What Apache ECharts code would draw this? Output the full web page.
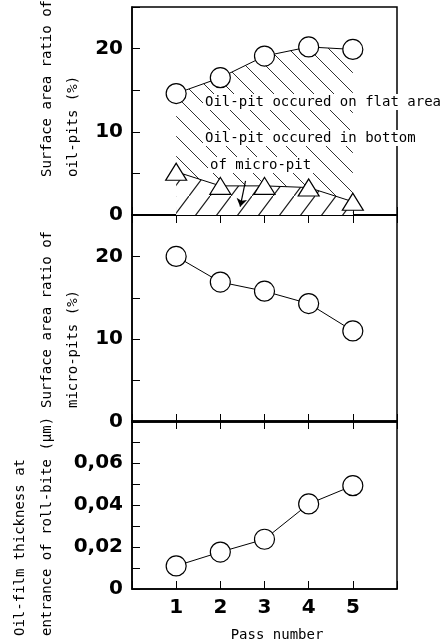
<!DOCTYPE html>
<html>
<head>
<meta charset="utf-8">
<script src="https://cdn.jsdelivr.net/npm/echarts@6/dist/echarts.min.js"></script>
<style>
    html, body { margin: 0; padding: 0; background: #fff; }
    #main { width: 442px; height: 644px; }
</style>
</head>
<body>
<div id="main"></div>
<script>
    // values
    var passes = [1, 2, 3, 4, 5];
    var flatAreaPits = [14.6, 16.5, 19.1, 20.2, 19.9];
    var microBottomPits = [5.2, 3.5, 3.5, 3.3, 1.6];
    var microPits = [20.0, 16.9, 15.8, 14.3, 11.0];
    var filmThickness = [0.011, 0.0176, 0.0237, 0.0405, 0.0492];

    var passLabels = ['1', '2', '3', '4', '5'];
    var ratioTicks = [0, 10, 20];
    var ratioTickLabels = ['0', '10', '20'];
    var filmTicks = [0, 0.02, 0.04, 0.06];
    var filmTickLabels = ['0', '0,02', '0,04', '0,06'];

    // arrow pointing into the lower hatched zone (data coords)
    var arrowPath = [[2.57, 4.1], [2.45, 1.0]];

    var myChart = echarts.init(document.getElementById('main'));

    // diagonal hatch tile, w x h, line from corner to corner
    function hatch(dir, w, h, lw) {
        var c = document.createElement('canvas');
        c.width = w;
        c.height = h;
        var g = c.getContext('2d');
        g.fillStyle = '#fff';
        g.fillRect(0, 0, w, h);
        g.strokeStyle = '#1a1a1a';
        g.lineWidth = lw;
        g.beginPath();
        if (dir === 'back') {
            g.moveTo(-w * 0.05, -h * 0.05); g.lineTo(w * 1.05, h * 1.05);
        } else {
            g.moveTo(-w * 0.05, h * 1.05); g.lineTo(w * 1.05, -h * 0.05);
        }
        g.stroke();
        return {image: c, repeat: 'repeat'};
    }

    function pairs(ys) {
        return passes.map(function (x, i) { return [x, ys[i]]; });
    }

    function pickLabel(ticks, labels) {
        return function (v) {
            for (var i = 0; i < ticks.length; i++) {
                if (Math.abs(v - ticks[i]) < 1e-6) return labels[i];
            }
            return '';
        };
    }

    var mono = '14px "DejaVu Sans Mono"';
    var labelFont = {fontFamily: 'DejaVu Sans', fontWeight: 'bold', fontSize: 20, color: '#000'};

    var grids = [
        {left: 132, top: 7, width: 265, height: 208},
        {left: 132, top: 215, width: 265, height: 207},
        {left: 132, top: 421, width: 265, height: 168}
    ];

    function xAx(idx, pos, labels) {
        return {
            type: 'value', gridIndex: idx, position: pos, min: 0, max: 6, interval: 1,
            axisLine: {show: true, lineStyle: {color: '#000', width: 1.5}},
            axisTick: {show: true, inside: true, length: 8, lineStyle: {color: '#000', width: 1}},
            axisLabel: labels ? Object.assign({show: true, margin: 9,
                formatter: pickLabel(passes, passLabels)}, labelFont) : {show: false},
            splitLine: {show: false}
        };
    }

    function yAx(idx, max, step, ticks, labels) {
        return {
            type: 'value', gridIndex: idx, min: 0, max: max, interval: step,
            axisLine: {show: true, lineStyle: {color: '#000', width: 1.5}},
            axisTick: {show: true, inside: true, length: 8, lineStyle: {color: '#000', width: 1}},
            axisLabel: Object.assign({show: true, margin: 9,
                formatter: pickLabel(ticks, labels)}, labelFont),
            splitLine: {show: false}
        };
    }

    function vName(x, y, txt) {
        return {
            type: 'text', x: x, y: y, rotation: Math.PI / 2, z: 100,
            style: {text: txt, font: mono, fill: '#000', textAlign: 'left', textVerticalAlign: 'middle'}
        };
    }

    function note(x, y, txt) {
        return {
            type: 'text', x: x, y: y, z: 100,
            style: {
                text: txt, font: mono, fill: '#000', textAlign: 'left', textVerticalAlign: 'middle',
                backgroundColor: '#fff', padding: [1, 2]
            }
        };
    }

    var markerStyle = {color: '#fff', borderColor: '#000', borderWidth: 1.2};

    var option = {
        animation: false,
        backgroundColor: '#fff',
        grid: grids.map(function (g) {
            return Object.assign({show: true, borderColor: '#000', borderWidth: 1.5}, g);
        }),
        xAxis: [
            xAx(0, 'bottom', false),
            xAx(1, 'bottom', false),
            xAx(1, 'top', false),
            xAx(2, 'bottom', true),
            xAx(2, 'top', false)
        ],
        yAxis: [
            yAx(0, 25, 5, ratioTicks, ratioTickLabels),
            yAx(1, 25, 5, ratioTicks, ratioTickLabels),
            yAx(2, 0.08, 0.01, filmTicks, filmTickLabels)
        ],
        series: [
            {
                // oil-pits on flat area: hatched down to the axis, lower part covered below
                type: 'line', xAxisIndex: 0, yAxisIndex: 0,
                data: pairs(flatAreaPits),
                symbol: 'circle', symbolSize: 20,
                itemStyle: markerStyle,
                lineStyle: {color: '#000', width: 1},
                areaStyle: {color: hatch('back', 20, 20, 0.9), opacity: 1, origin: 'start'},
                z: 2
            },
            {
                // oil-pits in bottom of micro-pits
                type: 'line', xAxisIndex: 0, yAxisIndex: 0,
                data: pairs(microBottomPits),
                symbol: 'triangle', symbolSize: [21, 17],
                itemStyle: markerStyle,
                lineStyle: {color: '#000', width: 1},
                areaStyle: {color: hatch('fwd', 21, 28, 1.2), opacity: 1, origin: 'start'},
                z: 4,
                markLine: {
                    silent: true, symbol: ['none', 'arrow'], symbolSize: 8,
                    label: {show: false},
                    lineStyle: {color: '#000', width: 1.2, type: 'solid'},
                    data: [[{coord: arrowPath[0]}, {coord: arrowPath[1]}]]
                }
            },
            {
                type: 'line', xAxisIndex: 1, yAxisIndex: 1,
                data: pairs(microPits),
                symbol: 'circle', symbolSize: 20,
                itemStyle: markerStyle,
                lineStyle: {color: '#000', width: 1},
                z: 5
            },
            {
                type: 'line', xAxisIndex: 3, yAxisIndex: 2,
                data: pairs(filmThickness),
                symbol: 'circle', symbolSize: 20,
                itemStyle: markerStyle,
                lineStyle: {color: '#000', width: 1},
                z: 5
            }
        ],
        graphic: [
            vName(47, 177, 'Surface area ratio of'),
            vName(73, 177, 'oil-pits (%)'),
            vName(47, 408, 'Surface area ratio of'),
            vName(73, 408, 'micro-pits (%)'),
            vName(20, 636, 'Oil-film thickness at'),
            vName(47, 636, 'entrance of roll-bite (\u03bcm)'),
            note(203, 102, 'Oil-pit occured on flat area'),
            note(203, 138, 'Oil-pit occured in bottom'),
            note(208, 165, 'of micro-pit'),
            {
                type: 'text', x: 277, y: 635, z: 100,
                style: {text: 'Pass number', font: mono, fill: '#000', textAlign: 'center', textVerticalAlign: 'middle'}
            }
        ]
    };

    myChart.setOption(option);
</script>
</body>
</html>
